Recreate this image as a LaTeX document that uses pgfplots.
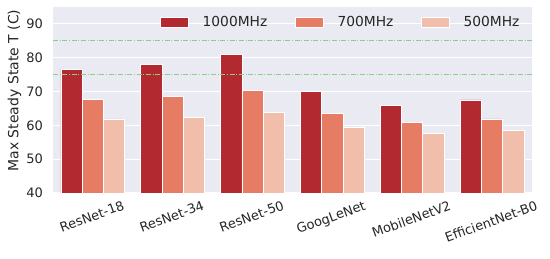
\documentclass[border=0pt]{standalone}
\usepackage{pgfplots}
\pgfplotsset{compat=1.18}
\usepackage{graphicx}
\usepackage{fontspec}
\setmainfont{DejaVu Sans}
\definecolor{bgc}{RGB}{234,234,242}
\definecolor{txt}{RGB}{38,38,38}
\definecolor{cA}{RGB}{178,42,48}
\definecolor{cB}{RGB}{230,124,100}
\definecolor{cC}{RGB}{241,190,171}
\definecolor{gl}{RGB}{140,205,140}
\begin{document}
\fontsize{13.2pt}{16pt}\selectfont
\begin{tikzpicture}
\path[use as bounding box] (-53pt,-66pt) rectangle (497pt,193pt);
\begin{axis}[
  scale only axis,
  width=479pt, height=186pt,
  xmin=-0.5, xmax=5.5,
  ymin=40, ymax=95,
  ytick={40,50,60,70,80,90},
  xtick={0,1,2,3,4,5},
  xticklabels={\rotatebox{20}{ResNet-18},\rotatebox{20}{ResNet-34},\rotatebox{20}{ResNet-50},\rotatebox{20}{GoogLeNet},\rotatebox{20}{MobileNetV2},\rotatebox{20}{EfficientNet-B0}},
  axis background/.style={fill=bgc},
  axis line style={draw=none},
  major tick length=0pt,
  ymajorgrids,
  grid style={white, line width=1pt},
  tick label style={font=\fontsize{13pt}{16pt}\selectfont, text=txt},
  /pgf/number format/assume math mode=true,
  xticklabel style={anchor=north, inner sep=0pt, yshift=-7pt, xshift=-1pt},
  yticklabel style={anchor=east, inner sep=0pt, xshift=-10pt},
  ylabel={Max Steady State T (C)},
  ylabel style={font=\fontsize{14pt}{17pt}\selectfont, text=txt,
    at={(rel axis cs:0,0.551)}, anchor=south, inner sep=0pt, yshift=31.5pt},
  ybar=0pt,
  bar width=0.2667,
  legend columns=3,
  legend style={at={(0.978,0.962)}, anchor=north east, draw=none, fill=none,
    inner sep=0pt, outer sep=0pt,
    font=\fontsize{13.8pt}{16pt}\selectfont, text=txt,
    /tikz/every even column/.append style={column sep=25.4pt}},
  legend cell align=left,
  legend image code/.code={\fill[#1] (0pt,-5pt) rectangle (28pt,5pt); \path (40pt,0pt);},
]
\addplot[fill=cA, draw=white, line width=0.8pt] coordinates {(0,76.6) (1,78.1) (2,81.0) (3,70.1) (4,66.0) (5,67.5)};
\addplot[fill=cB, draw=white, line width=0.8pt] coordinates {(0,67.7) (1,68.6) (2,70.3) (3,63.4) (4,60.9) (5,61.9)};
\addplot[fill=cC, draw=white, line width=0.8pt] coordinates {(0,61.9) (1,62.4) (2,63.7) (3,59.4) (4,57.6) (5,58.4)};
\legend{1000MHz,700MHz,500MHz}
\addplot[sharp plot, draw=gl, line width=0.8pt, dash pattern=on 5pt off 1.7pt on 0.9pt off 1.7pt, forget plot] coordinates {(-0.5,85) (5.5,85)};
\addplot[sharp plot, draw=gl, line width=0.8pt, dash pattern=on 5pt off 1.7pt on 0.9pt off 1.7pt, forget plot] coordinates {(-0.5,75) (5.5,75)};
\end{axis}
\end{tikzpicture}
\end{document}
